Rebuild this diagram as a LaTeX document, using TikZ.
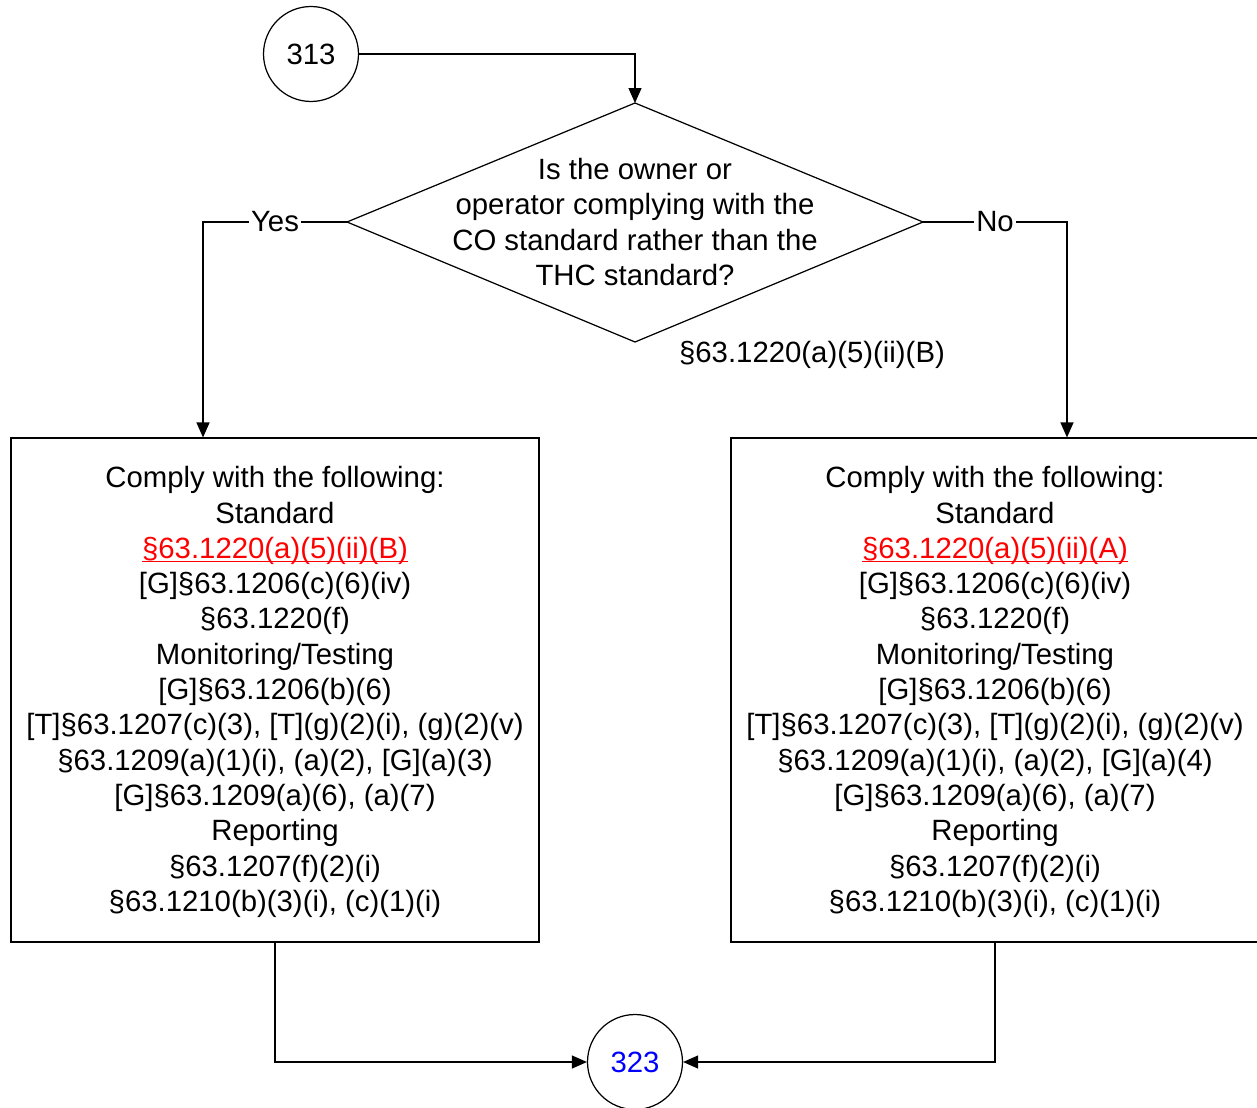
\documentclass[tikz,border=0pt]{standalone}
\usepackage{fontspec}
\setmainfont{Liberation Sans}
\usetikzlibrary{arrows.meta}

\definecolor{linkred}{RGB}{255,0,0}
\definecolor{refblue}{RGB}{0,0,255}
\newcommand{\redref}[1]{\textcolor{linkred}{\setbox0\hbox{#1}\rlap{\rule[-2.2pt]{\wd0}{0.6pt}}\box0}}

\tikzset{
    every node/.style={font=\fontsize{16.7}{20.1}\selectfont},
    arr/.style={-{Triangle[length=0.3cm,width=0.26cm]}, black},
    conn/.style={draw, circle, minimum size=1.9cm, inner sep=0pt},
    stepbox/.style={draw, minimum width=10.56cm, minimum height=10.08cm, align=center, inner sep=0pt},
    lbl/.style={fill=white, inner sep=1pt}
}

\begin{document}
\begin{tikzpicture}[x=0.02cm, y=-0.02cm, line width=0.7pt]
        \useasboundingbox (0,0) rectangle (1257,1108);

        % connectors
        \node[conn] (c313) at (311, 54) {313};
        \node[conn, text=refblue] (c323) at (635, 1062) {323};

        % decision
        \coordinate (dtop) at (635, 103);
        \coordinate (dleft) at (347, 222);
        \coordinate (dright) at (923, 222);
        \coordinate (dbot) at (635, 342);
        \draw (dtop) -- (dright) -- (dbot) -- (dleft) -- cycle;
        \node[align=center] (q) at (635, 222) {Is the owner or\\operator complying with the\\CO standard rather than the\\THC standard?};
        \node (qref) at (812, 355) {§63.1220(a)(5)(ii)(B)};

        % steps
        \node[stepbox] (yesbox) at (275, 690) {};
        \node[align=center] (yestxt) at (275, 692) {Comply with the following:\\Standard\\\redref{§63.1220(a)(5)(ii)(B)}\\{[G]§63.1206(c)(6)(iv)}\\§63.1220(f)\\Monitoring/Testing\\{[G]§63.1206(b)(6)}\\{[T]§63.1207(c)(3), [T](g)(2)(i), (g)(2)(v)}\\§63.1209(a)(1)(i), (a)(2), [G](a)(3)\\{[G]§63.1209(a)(6), (a)(7)}\\Reporting\\§63.1207(f)(2)(i)\\§63.1210(b)(3)(i), (c)(1)(i)};
        \node[stepbox] (nobox) at (995, 690) {};
        \node[align=center] (notxt) at (995, 692) {Comply with the following:\\Standard\\\redref{§63.1220(a)(5)(ii)(A)}\\{[G]§63.1206(c)(6)(iv)}\\§63.1220(f)\\Monitoring/Testing\\{[G]§63.1206(b)(6)}\\{[T]§63.1207(c)(3), [T](g)(2)(i), (g)(2)(v)}\\§63.1209(a)(1)(i), (a)(2), [G](a)(4)\\{[G]§63.1209(a)(6), (a)(7)}\\Reporting\\§63.1207(f)(2)(i)\\§63.1210(b)(3)(i), (c)(1)(i)};

        % flow
        \draw[arr] (c313.east) -| (dtop);
        \draw[arr] (dleft) -| node[lbl, pos=0.25] {Yes} ([xshift=-1.44cm]yesbox.north);
        \draw[arr] (dright) -| node[lbl, pos=0.25] {No} ([xshift=1.44cm]nobox.north);
        \draw[arr] (yesbox.south) |- (c323.west);
        \draw[arr] (nobox.south) |- (c323.east);
    \end{tikzpicture}
\end{document}
